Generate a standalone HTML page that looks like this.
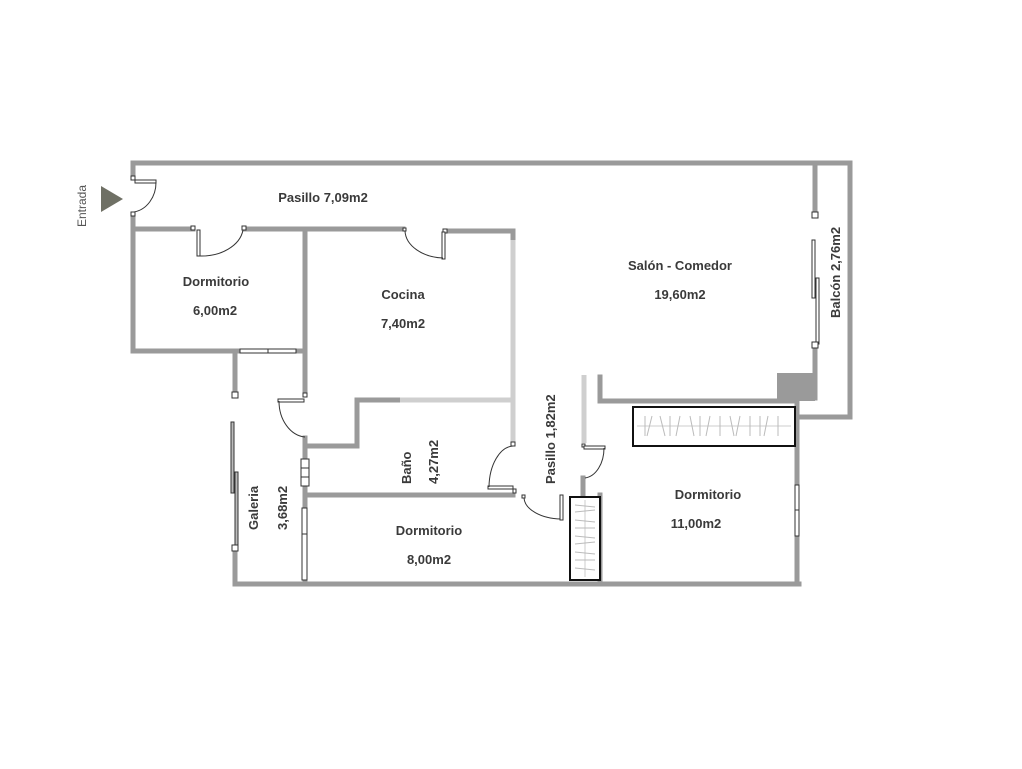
<!DOCTYPE html>
<html><head><meta charset="utf-8"><style>
body{margin:0;background:#fff}
svg text{font-family:"Liberation Sans",sans-serif;font-weight:bold;font-size:13px;fill:#3a3a3a}
</style></head><body>
<svg width="1022" height="764" viewBox="0 0 1022 764" xmlns="http://www.w3.org/2000/svg">
<g stroke="#9a9a9a" stroke-width="5" fill="none" stroke-linecap="square">
<!-- outer top -->
<polyline points="133,175 133,163 850,163 850,417 797,417"/>
<line x1="133" y1="218" x2="133" y2="351"/>
<!-- pasillo bottom -->
<line x1="133" y1="229" x2="193" y2="229"/>
<line x1="245" y1="229" x2="403" y2="229"/>
<polyline points="445,231 513,231 513,240"/>
<!-- dorm 6 -->
<line x1="133" y1="351" x2="240" y2="351"/>
<line x1="296" y1="351" x2="305" y2="351"/>
<line x1="305" y1="229" x2="305" y2="395"/>
<line x1="305" y1="438" x2="305" y2="583"/>
<line x1="235" y1="351" x2="235" y2="390"/>
<line x1="235" y1="552" x2="235" y2="583"/>
<!-- cocina step -->
<polyline points="307,446 357,446 357,400 400,400"/>
<line x1="305" y1="495" x2="513" y2="495"/>
<!-- bottom -->
<line x1="235" y1="584" x2="799" y2="584"/>
<!-- salon -->
<line x1="815" y1="163" x2="815" y2="212"/>
<line x1="815" y1="348" x2="815" y2="398"/>
<polyline points="600,377 600,401 797,401 797,484"/>
<line x1="797" y1="536" x2="797" y2="583"/>
<line x1="583" y1="478" x2="583" y2="495"/>
<line x1="600" y1="495" x2="600" y2="583"/>
</g>
<g stroke="#cfcfcf" stroke-width="5" fill="none">
<line x1="513" y1="240" x2="513" y2="443"/>
<line x1="400" y1="400" x2="513" y2="400"/>
<line x1="584" y1="375" x2="584" y2="443"/>
</g>
<rect x="777" y="373" width="38" height="28" fill="#9a9a9a"/>
<!-- entrance door -->
<g stroke="#333" stroke-width="1" fill="#fff">
<rect x="131" y="176" width="4" height="4"/><rect x="131" y="212" width="4" height="4"/>
<rect x="135" y="180" width="21" height="3"/>
<path d="M156,182 A26,30 0 0 1 134,212" fill="none"/>
<rect x="191" y="226" width="4" height="4"/><rect x="242" y="226" width="4" height="4"/>
<rect x="197" y="230" width="3" height="26"/>
<path d="M199,256 A42,30 0 0 0 243,230" fill="none"/>
<rect x="403" y="228" width="3" height="3"/><rect x="443" y="229" width="4" height="4"/>
<rect x="442" y="232" width="3" height="27"/>
<path d="M405,231 A40,28 0 0 0 443,258" fill="none"/>
<!-- dorm6 window -->
<rect x="240" y="349" width="56" height="4"/><line x1="268" y1="349" x2="268" y2="353"/>
<rect x="232" y="392" width="6" height="6"/>
<rect x="231" y="422" width="3" height="71" fill="#bbb"/>
<rect x="235" y="472" width="3" height="76" fill="#bbb"/>
<rect x="232" y="545" width="6" height="6"/>
<!-- galeria door -->
<rect x="303" y="393" width="4" height="4"/>
<rect x="278" y="399" width="26" height="3"/>
<path d="M279,401 A28,36 0 0 0 305,437" fill="none"/>
<rect x="301" y="459" width="8" height="27"/><line x1="301" y1="468" x2="309" y2="468"/><line x1="301" y1="477" x2="309" y2="477"/>
<rect x="302" y="508" width="5" height="72"/><line x1="302" y1="534" x2="307" y2="534"/>
<!-- pasillo doors -->
<rect x="511" y="442" width="4" height="4"/>
<rect x="488" y="486" width="25" height="3"/>
<path d="M513,446 A25,42 0 0 0 489,487" fill="none"/>
<rect x="513" y="489" width="3" height="4"/>
<rect x="522" y="495" width="3" height="3"/>
<path d="M524,498 A38,22 0 0 0 561,519" fill="none"/>
<rect x="560" y="495" width="3" height="25"/>
<rect x="582" y="444" width="3" height="3"/>
<rect x="584" y="446" width="21" height="3"/>
<path d="M604,448 A21,30 0 0 1 585,478" fill="none"/>
<!-- salon window -->
<rect x="812" y="212" width="6" height="6"/>
<rect x="812" y="240" width="3" height="58"/>
<rect x="816" y="278" width="3" height="66"/>
<rect x="812" y="342" width="6" height="6"/>
<rect x="795" y="485" width="4" height="51"/><line x1="795" y1="510" x2="799" y2="510"/>
</g>
<!-- wardrobes -->
<rect x="633" y="407" width="162" height="39" fill="#fff" stroke="#111" stroke-width="2"/>
<line x1="637" y1="426" x2="791" y2="426" stroke="#ccc"/>
<path d="M645,416 l0,20 M652,416 l-5,20 M660,416 l5,20 M670,416 l0,20 M680,416 l-4,20 M690,416 l4,20 M700,416 l0,20 M710,416 l-4,20 M720,416 l0,20 M730,416 l4,20 M740,416 l-4,20 M750,416 l0,20 M760,416 l0,20 M768,416 l-4,20 M778,416 l0,20" stroke="#bbb" fill="none"/>
<rect x="570" y="497" width="30" height="83" fill="#fff" stroke="#111" stroke-width="2"/>
<line x1="585" y1="500" x2="585" y2="577" stroke="#ccc"/>
<path d="M575,505 l20,2 M575,512 l20,-2 M575,520 l20,2 M575,528 l20,0 M575,536 l20,2 M575,544 l20,-2 M575,552 l20,2 M575,560 l20,0 M575,568 l20,2" stroke="#bbb" fill="none"/>
<!-- entrance arrow -->
<polygon points="101,186 101,212 123,199" fill="#6f7065"/>
<text x="0" y="0" transform="translate(86,227) rotate(-90)" style="font-weight:normal;font-size:12px;fill:#555">Entrada</text>
<text x="323" y="202" text-anchor="middle">Pasillo 7,09m2</text>
<text x="216" y="286" text-anchor="middle">Dormitorio</text>
<text x="215" y="315" text-anchor="middle">6,00m2</text>
<text x="403" y="299" text-anchor="middle">Cocina</text>
<text x="403" y="328" text-anchor="middle">7,40m2</text>
<text x="680" y="270" text-anchor="middle">Salón - Comedor</text>
<text x="680" y="299" text-anchor="middle">19,60m2</text>
<text transform="translate(840,318) rotate(-90)">Balcón  2,76m2</text>
<text transform="translate(411,484) rotate(-90)">Baño</text>
<text transform="translate(438,484) rotate(-90)">4,27m2</text>
<text transform="translate(555,484) rotate(-90)">Pasillo 1,82m2</text>
<text transform="translate(258,530) rotate(-90)">Galeria</text>
<text transform="translate(287,530) rotate(-90)">3,68m2</text>
<text x="429" y="535" text-anchor="middle">Dormitorio</text>
<text x="429" y="564" text-anchor="middle">8,00m2</text>
<text x="708" y="499" text-anchor="middle">Dormitorio</text>
<text x="696" y="528" text-anchor="middle">11,00m2</text>
</svg>
</body></html>
